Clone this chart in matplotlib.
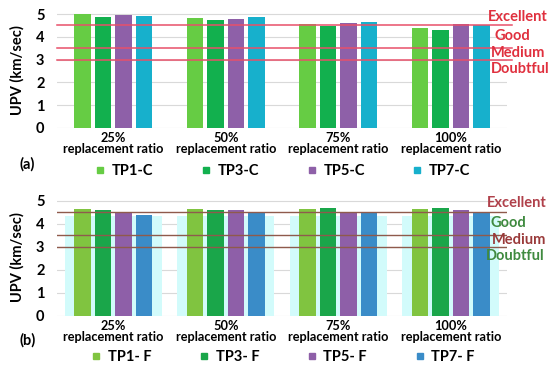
import matplotlib
matplotlib.use("Agg")
import matplotlib.pyplot as plt
from matplotlib.lines import Line2D
import numpy as np

plt.rcParams['font.family'] = ['Lato', 'DejaVu Sans']
plt.rcParams['font.weight'] = 'bold'

categories = ["25%\nreplacement ratio", "50%\nreplacement ratio",
              "75%\nreplacement ratio", "100%\nreplacement ratio"]

series_a = ["TP1-C", "TP3-C", "TP5-C", "TP7-C"]
tp1_c = [5.00, 4.82, 4.55, 4.40]
tp3_c = [4.86, 4.72, 4.46, 4.30]
tp5_c = [4.96, 4.76, 4.60, 4.55]
tp7_c = [4.92, 4.86, 4.63, 4.52]

series_b = ["TP1- F", "TP3- F", "TP5- F", "TP7- F"]
tp1_f = [4.64, 4.64, 4.64, 4.64]
tp3_f = [4.58, 4.58, 4.68, 4.67]
tp5_f = [4.52, 4.60, 4.50, 4.58]
tp7_f = [4.38, 4.47, 4.49, 4.52]
highlight_b = [4.35, 4.35, 4.35, 4.35]

limit_values = [4.5, 3.5, 3.0]
quality_labels = ["Excellent", "Good", "Medium", "Doubtful"]
yticks = [0, 1, 2, 3, 4, 5]

colors_a = ["#66cc44", "#12b04e", "#8e60a8", "#17b0cc"]
colors_b = ["#80c440", "#1aa64a", "#8e5fa8", "#3a8cc8"]

fig = plt.figure(figsize=(5.5, 3.75), dpi=100)
W, H = 550, 375

def make_ax(top_px, zero_px):
    left = 57 / W
    width = 450 / W
    unit = (zero_px - top_px) / 5.0
    ytop_px = zero_px - 5.08 * unit
    bottom = 1 - zero_px / H
    height = (zero_px - ytop_px) / H
    ax = fig.add_axes([left, bottom, width, height])
    ax.set_ylim(0, 5.08)
    ax.set_xlim(-0.5, 3.5)
    for s in ax.spines.values():
        s.set_visible(False)
    ax.set_yticks(yticks)
    ax.set_yticklabels([str(v) for v in yticks], fontsize=10.5, fontweight='bold')
    ax.tick_params(length=0, pad=9)
    ax.yaxis.grid(True, color="#d9d9d9", lw=0.8)
    ax.set_axisbelow(True)
    x = np.arange(len(categories))
    ax.set_xticks(x)
    ax.set_xticklabels(categories, fontsize=9.2, fontweight='bold', linespacing=0.9)
    ax.tick_params(axis='x', pad=3)
    ax.set_ylabel("UPV (km/sec)", fontsize=10.5, fontweight='bold', labelpad=8)
    return ax

x = np.arange(len(categories))
offs = np.array([-1.5, -0.5, 0.5, 1.5]) * 0.183
bw = 0.148

# Panel (a)
ax1 = make_ax(14, 128)
for vals, c, o in zip([tp1_c, tp3_c, tp5_c, tp7_c], colors_a, offs):
    ax1.bar(x + o, vals, width=bw, color=c, zorder=2)
for v in limit_values:
    ax1.axhline(v, xmin=0, xmax=1.012, color="#e8506a", lw=1.1, zorder=3, clip_on=False)
lab_y_a = [4.87, 4.03, 3.29, 2.59]
lab_x_a = [0.958, 0.972, 0.965, 0.965]
for t, lx, ly in zip(quality_labels, lab_x_a, lab_y_a):
    ax1.text(lx, ly, t, transform=ax1.get_yaxis_transform(), color="#e0303e",
             fontsize=10.5, fontweight='bold', va='center', ha='left', zorder=4)
handles_a = [Line2D([], [], marker='s', ls='', color=c, markersize=4.5) for c in colors_a]
fig.legend(handles_a, series_a, loc='center', bbox_to_anchor=(0.515, 1 - 171 / H),
           ncol=4, frameon=False, handlelength=0.6, handletextpad=0.5,
           columnspacing=3.3, prop={'weight': 'bold', 'size': 10.5})
fig.text(20 / W, 1 - 164 / H, "(a)", fontsize=10.5, fontweight='bold', va='center')

# Panel (b)
ax2 = make_ax(200.7, 315.7)
ax2.bar(x, highlight_b, width=0.86, color="#d2fbfb", zorder=1)
for vals, c, o in zip([tp1_f, tp3_f, tp5_f, tp7_f], colors_b, offs):
    ax2.bar(x + o, vals, width=bw, color=c, zorder=2)
for v in limit_values:
    ax2.axhline(v, color="#8f5a4c", lw=1.0, zorder=3)
lab_y_b = [4.92, 4.03, 3.29, 2.60]
lab_x_b = [0.955, 0.964, 0.966, 0.953]
lab_c_b = ["#b0404a", "#3f8a3f", "#9a3a3a", "#3f8a3f"]
for t, lx, ly, c in zip(quality_labels, lab_x_b, lab_y_b, lab_c_b):
    ax2.text(lx, ly, t, transform=ax2.get_yaxis_transform(), color=c,
             fontsize=10.5, fontweight='bold', va='center', ha='left', zorder=4)
handles_b = [Line2D([], [], marker='s', ls='', color=c, markersize=4.5) for c in colors_b]
fig.legend(handles_b, series_b, loc='center', bbox_to_anchor=(0.515, 1 - 357 / H),
           ncol=4, frameon=False, handlelength=0.6, handletextpad=0.5,
           columnspacing=3.3, prop={'weight': 'bold', 'size': 10.5})
fig.text(20 / W, 1 - 340 / H, "(b)", fontsize=10.5, fontweight='bold', va='center')

fig.savefig("out.png", dpi=100)
